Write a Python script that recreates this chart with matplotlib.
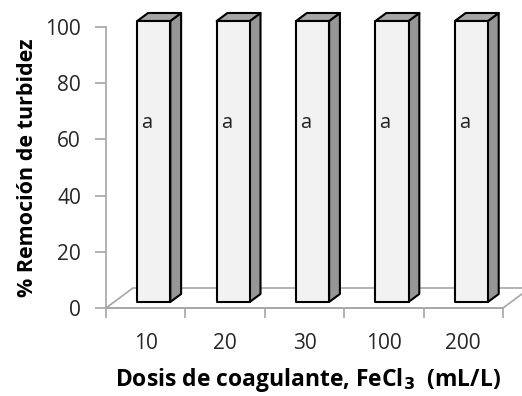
import matplotlib as mpl
import matplotlib.pyplot as plt
from matplotlib.patches import Polygon

dpi = 100

# data
categories = ['10', '20', '30', '100', '200']
removal = [100, 100, 100, 100, 100]
letters = ['a', 'a', 'a', 'a', 'a']

mpl.rcParams['font.family'] = ['Open Sans', 'DejaVu Sans']

fig = plt.figure(figsize=(522 / dpi, 396 / dpi), dpi=dpi)
ax = fig.add_axes([106 / 522, 88 / 396, 397 / 522, 281 / 396])
ax.set_xlim(0, len(categories))
ax.set_ylim(0, 100)

grey = '#a6a6a6'
# depth of the 3d box, in data units (dx, dy)
depth_x, depth_y = 0.34, 7.12
front, back = 0.3, 0.7
bar_w = 0.416

# floor
n = len(categories)
floor = Polygon([(0, 0), (n, 0), (n + depth_x, depth_y), (depth_x, depth_y)],
                closed=True, facecolor='white', edgecolor=grey, lw=1.2,
                clip_on=False, zorder=1)
ax.add_patch(floor)

fx, fy = front * depth_x, front * depth_y
bx, by = back * depth_x, back * depth_y
for i, v in enumerate(removal):
    x0 = i + 0.5 - bar_w / 2
    x1 = x0 + bar_w
    side = Polygon([(x1 + fx, fy), (x1 + bx, by), (x1 + bx, v + by), (x1 + fx, v + fy)],
                   facecolor='#969696', edgecolor='black', lw=1.5, clip_on=False,
                   zorder=3, joinstyle='round')
    top = Polygon([(x0 + fx, v + fy), (x0 + bx, v + by), (x1 + bx, v + by), (x1 + fx, v + fy)],
                  facecolor='#a6a6a6', edgecolor='black', lw=1.5, clip_on=False,
                  zorder=3, joinstyle='round')
    face = Polygon([(x0 + fx, fy), (x1 + fx, fy), (x1 + fx, v + fy), (x0 + fx, v + fy)],
                   facecolor='#f2f2f2', edgecolor='black', lw=1.5, clip_on=False,
                   zorder=4, joinstyle='round')
    for p in (side, top, face):
        ax.add_patch(p)
    ax.text(x0 + fx + 0.12, 66, letters[i], ha='center', va='center',
            fontsize=14.5, color='#222222', zorder=5)

# axes styling
for s in ('top', 'right'):
    ax.spines[s].set_visible(False)
for s in ('left', 'bottom'):
    ax.spines[s].set_color(grey)
    ax.spines[s].set_linewidth(1.2)
ax.set_yticks(range(0, 101, 20))
ax.set_xticks(range(0, n + 1))
ax.set_xticklabels([])
ax.set_xticks([i + 0.5 for i in range(n)], minor=True)
ax.set_xticklabels(categories, minor=True)
ax.tick_params(axis='x', which='major', length=7, width=1.2, color=grey, direction='out')
ax.tick_params(axis='x', which='minor', length=0, pad=18, labelsize=15, labelcolor='#262626')
ax.tick_params(axis='y', length=8, width=1.2, color=grey, direction='out', pad=10,
               labelsize=15, labelcolor='#262626')

ax.set_ylabel('% Remoción de turbidez', fontsize=15.5, fontweight='bold')
ax.yaxis.set_label_coords(-0.172, 0.5)
ax.set_xlabel('Dosis de coagulante, FeCl$_\\mathbf{3}$  (mL/L)', fontsize=16.5,
              fontweight='bold')
ax.xaxis.set_label_coords(0.51, -0.208)

plt.savefig('out.png', dpi=dpi)
